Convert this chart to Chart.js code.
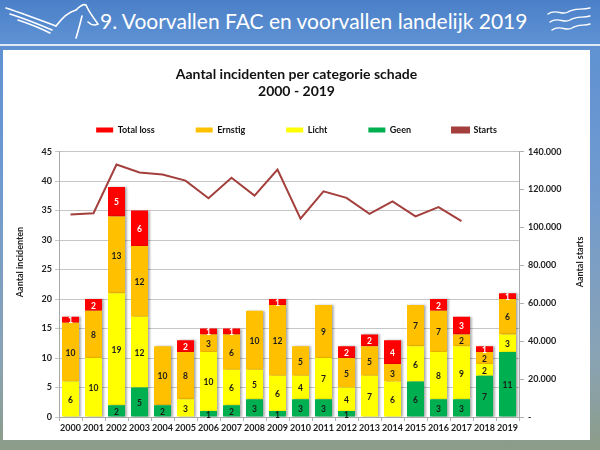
<!DOCTYPE html>
<html>
<head>
  <title>Voorvallen FAC en voorvallen landelijk 2019</title>
  <meta charset="UTF-8">
  <script src="https://cdn.jsdelivr.net/npm/chart.js"></script>
  <style>
    html, body {
      margin: 0;
      padding: 0;
      width: 600px;
      height: 450px;
      overflow: hidden;
    }
    body {
      position: relative;
      font-family: Lato, "Open Sans", sans-serif;
      background: linear-gradient(to bottom, #5a8ed2 0%, #6f9ad0 40%, #8aa3b4 80%, #8c9c88 100%);
    }
    .banner {
      position: absolute;
      left: 0; top: 0;
      width: 600px; height: 44px;
      background: linear-gradient(to bottom, #4b80c8, #5f92d4);
      border-bottom: 2px solid #dfe9f6;
    }
    .banner h1 {
      position: absolute;
      left: 100px; top: 8px;
      margin: 0;
      font-size: 21px;
      font-weight: 400;
      color: #fff;
      white-space: nowrap;
    }
    .logo { position: absolute; }
    .panel {
      position: absolute;
      left: 3px; top: 50px;
      width: 587px; height: 390px;
      background: #fff;
    }
    #chart {
      position: absolute;
      left: 3px; top: 50px;
    }
  </style>
</head>
<body>
  <div class="banner">
    <svg class="logo" style="left:4px;top:2px" width="96" height="40" viewBox="0 0 96 40">
      <g fill="none" stroke="#fff" stroke-width="1.6" stroke-linecap="round">
        <path d="M2 6 C20 12 36 18 52 24"/>
        <path d="M6 12 C22 17 34 22 48 28"/>
        <path d="M14 18 C26 22 36 26 46 31"/>
        <path d="M52 24 C58 16 64 10 72 8"/>
        <path d="M72 8 C76 4 80 2 82 3 C84 8 88 14 94 22 C90 24 86 22 84 20"/>
        <path d="M78 14 C76 22 74 30 72 36"/>
      </g>
    </svg>
    <h1>9. Voorvallen FAC en voorvallen landelijk 2019</h1>
    <svg class="logo" style="left:546px;top:6px" width="46" height="30" viewBox="0 0 46 30">
      <g fill="none" stroke="#fff" stroke-width="1.4" stroke-linecap="round">
        <path d="M2 8 C10 2 16 10 22 6 C28 2 34 4 44 2"/>
        <path d="M4 16 C12 10 18 18 24 14 C30 10 36 12 44 10"/>
        <path d="M6 24 C14 18 20 26 26 22 C32 18 38 20 44 18"/>
      </g>
    </svg>
  </div>
  <div class="panel"></div>
  <canvas id="chart" width="587" height="395"></canvas>

  <script>
    // values
    const years = ['2000', '2001', '2002', '2003', '2004', '2005', '2006', '2007', '2008', '2009',
                   '2010', '2011', '2012', '2013', '2014', '2015', '2016', '2017', '2018', '2019'];
    const geen      = [0, 0, 2, 5, 2, 0, 1, 2, 3, 1, 3, 3, 1, 0, 0, 6, 3, 3, 7, 11];
    const licht     = [6, 10, 19, 12, 0, 3, 10, 6, 5, 6, 4, 7, 4, 7, 6, 6, 8, 9, 2, 3];
    const ernstig   = [10, 8, 13, 12, 10, 8, 3, 6, 10, 12, 5, 9, 5, 5, 3, 7, 7, 2, 2, 6];
    const totalLoss = [1, 2, 5, 6, 0, 2, 1, 1, 0, 1, 0, 0, 2, 2, 4, 0, 2, 3, 1, 1];
    const starts    = [106800, 107500, 133200, 129000, 127900, 124700, 115400, 126200, 116800, 130500,
                       104600, 119000, 115600, 107200, 113700, 105800, 110700, 103300, null, null];

    const legendOrder = ['Total loss', 'Ernstig', 'Licht', 'Geen', 'Starts'];
    const leftTitle = 'Aantal incidenten';
    const rightTitle = 'Aantal starts';

    const FONT = 'Lato, "Open Sans", sans-serif';

    // value labels inside the bar segments
    const barLabels = {
      id: 'barLabels',
      afterDatasetsDraw(chart) {
        const ctx = chart.ctx;
        ctx.save();
        ctx.font = 'bold 8.5px ' + FONT;
        ctx.textAlign = 'center';
        ctx.textBaseline = 'middle';
        chart.data.datasets.forEach((ds, i) => {
          if (ds.type === 'line') return;
          const meta = chart.getDatasetMeta(i);
          meta.data.forEach((bar, j) => {
            const v = ds.data[j];
            if (!v) return;
            ctx.fillStyle = ds.labelColor;
            ctx.fillText(v, bar.x, (bar.y + bar.base) / 2 + 1);
          });
        });
        ctx.restore();
      }
    };

    // soft shadow to the right of the bars
    const barShadow = {
      id: 'barShadow',
      beforeDatasetDraw(chart, args) {
        if (args.meta.type !== 'bar') return;
        const ctx = chart.ctx;
        ctx.save();
        ctx.shadowColor = 'rgba(0,0,0,0.3)';
        ctx.shadowBlur = 2;
        ctx.shadowOffsetX = 2;
        ctx.shadowOffsetY = 0;
      },
      afterDatasetDraw(chart, args) {
        if (args.meta.type !== 'bar') return;
        chart.ctx.restore();
      }
    };

    // both axis titles read bottom to top
    const axisTitles = {
      id: 'axisTitles',
      afterDraw(chart) {
        const ctx = chart.ctx;
        ctx.save();
        ctx.font = 'bold 9px ' + FONT;
        ctx.fillStyle = '#222';
        ctx.textAlign = 'center';
        ctx.textBaseline = 'middle';
        [[17, leftTitle], [577, rightTitle]].forEach(([x, t]) => {
          ctx.save();
          ctx.translate(x, 212);
          ctx.rotate(-Math.PI / 2);
          ctx.fillText(t, 0, 0);
          ctx.restore();
        });
        ctx.restore();
      }
    };

    const ctx = document.getElementById('chart').getContext('2d');
    new Chart(ctx, {
      type: 'bar',
      data: {
        labels: years,
        datasets: [
          { label: 'Geen', data: geen, backgroundColor: '#00b050', labelColor: '#1a1a1a', yAxisID: 'y', order: 2 },
          { label: 'Licht', data: licht, backgroundColor: '#ffff00', labelColor: '#1a1a1a', yAxisID: 'y', order: 2 },
          { label: 'Ernstig', data: ernstig, backgroundColor: '#ffc000', labelColor: '#1a1a1a', yAxisID: 'y', order: 2 },
          { label: 'Total loss', data: totalLoss, backgroundColor: '#ff0000', labelColor: '#ffffff', yAxisID: 'y', order: 2 },
          {
            type: 'line',
            label: 'Starts',
            data: starts,
            yAxisID: 'y1',
            borderColor: '#a33f3c',
            backgroundColor: '#a33f3c',
            borderWidth: 2,
            pointRadius: 0,
            tension: 0,
            order: 1
          }
        ]
      },
      options: {
        responsive: false,
        animation: false,
        categoryPercentage: 1,
        barPercentage: 0.74,
        scales: {
          x: {
            stacked: true,
            grid: { drawOnChartArea: false, tickLength: 4, color: '#b0b0b0' },
            border: { color: '#a8a8a8' },
            ticks: { color: '#222', font: { family: FONT, size: 9, weight: 'bold' }, padding: 2, maxRotation: 0, autoSkip: false },
            afterFit(scale) { scale.height = 28; }
          },
          // empty strip between legend and plot
          gap: {
            type: 'category',
            position: 'top',
            grid: { display: false },
            border: { display: false },
            ticks: { display: false },
            afterFit(scale) { scale.height = 7; }
          },
          y: {
            stacked: true,
            position: 'left',
            min: 0,
            max: 45,
            ticks: { stepSize: 5, color: '#222', font: { family: FONT, size: 9, weight: 'bold' }, padding: 3 },
            grid: { color: '#c6c6c6', tickLength: 4 },
            border: { color: '#a8a8a8' },
            afterFit(scale) { scale.width = 56; }
          },
          y1: {
            position: 'right',
            min: 0,
            max: 140000,
            ticks: {
              stepSize: 20000,
              color: '#222',
              font: { family: FONT, size: 9, weight: 'bold' },
              padding: 4,
              callback: v => v === 0 ? '-' : v.toLocaleString('nl-NL')
            },
            grid: { drawOnChartArea: false, color: '#b0b0b0', tickLength: 5 },
            border: { color: '#a8a8a8' },
            afterFit(scale) { scale.width = 71; }
          }
        },
        plugins: {
          title: {
            display: true,
            text: ['Aantal incidenten per categorie schade', '2000 - 2019'],
            color: '#111',
            font: { family: FONT, size: 14, weight: 'bold', lineHeight: 1.2 },
            padding: { top: 16, bottom: -15 }
          },
          legend: {
            position: 'top',
            labels: {
              sort: (a, b) => legendOrder.indexOf(a.text) - legendOrder.indexOf(b.text),
              boxWidth: 17,
              boxHeight: 5,
              padding: 41,
              color: '#111',
              font: { family: FONT, size: 9, weight: 'bold' }
            }
          },
          tooltip: { enabled: false }
        }
      },
      plugins: [barShadow, barLabels, axisTitles]
    });
  </script>
</body>
</html>
